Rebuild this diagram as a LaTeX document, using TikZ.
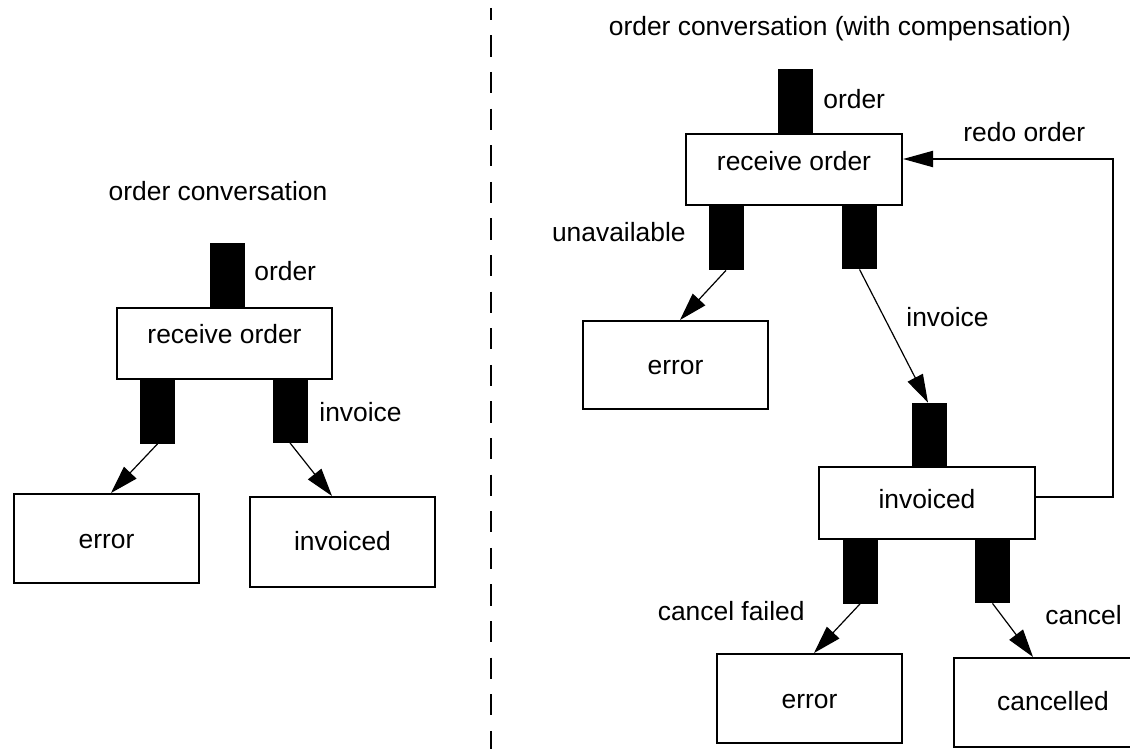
\documentclass[tikz,border=0pt]{standalone}
\usepackage{fontspec}
\setmainfont{Liberation Sans}
\usetikzlibrary{arrows.meta,calc}
\begin{document}
\begin{tikzpicture}[x=0.5pt,y=-0.5pt,
  font=\fontsize{13.2pt}{15pt}\selectfont,
  wh/.style 2 args={minimum width={#1*0.5pt},minimum height={#2*0.5pt}},
  box/.style={draw,line width=1pt,inner sep=0pt,text height=9.5pt,text depth=0pt},
  port/.style={fill=black,inner sep=0pt,minimum width=17.5pt,minimum height=32pt},
  lbl/.style={inner sep=0pt},
  flow/.style={line width=0.6pt,-{Triangle[length=14pt,width=8.5pt]}},
  fb/.style={line width=1pt,-{Triangle[length=15pt,width=8pt]}},
  divider/.style={line width=1.2pt,dash pattern=on 10.6pt off 7.7pt,dash phase=4.6pt}]
\useasboundingbox (0,0) rectangle (1130,749);

% separator between the two conversations
\draw[divider] (491,8) -- (491,749);

% ---------- plain order conversation ----------
\node[lbl,anchor=base] (ltitle) at (218,200.7) {order conversation};

\node[port] (lp0) at (227,275) {};
\node[box,wh={215}{71},text depth=9.5pt] (lrecv) at (224.5,343.5) {receive order};
\node[port] (lp1) at (157.5,411.5) {};
\node[port] (lp2) at (290,410.5) {};
\node[box,wh={185}{89}] (lerr) at (106.5,538.5) {error};
\node[box,wh={185}{90},text depth=1.5pt] (linv) at (342.5,542) {invoiced};

\node[lbl,anchor=base west] (lorder) at (254,280.7) {order};
\node[lbl,anchor=base west] (linvoice) at (319,421.7) {invoice};

\draw[flow] (lp1.south) -- ($(lerr.north)+(4.5,0)$);
\draw[flow] (lp2.south) -- ($(linv.north)+(-10.5,0)$);

% ---------- order conversation with compensation ----------
\node[lbl,anchor=base] (rtitle) at (840,36) {order conversation (with compensation)};

\node[port] (rp0) at (795.5,101) {};
\node[box,wh={216}{71},text depth=9pt] (rrecv) at (794,169.5) {receive order};
\node[port] (rp1) at (726,238) {};
\node[port] (rp2) at (859.5,237) {};
\node[box,wh={185}{88}] (rerr) at (675.5,365) {error};
\node[port] (rp3) at (929.5,435) {};
\node[box,wh={216}{72},text depth=4.5pt] (rinv) at (927,503) {invoiced};
\node[port] (rp4) at (860,571.5) {};
\node[port] (rp5) at (992.5,571) {};
\node[box,wh={185}{89}] (rerr2) at (809.5,698.5) {error};
\node[box,wh={198}{89},text depth=2pt] (rcanc) at (1053,702.5) {cancelled};

\node[lbl,anchor=base west] (rorder) at (823,108.3) {order};
\node[lbl,anchor=base west] (redo) at (963,141.7) {redo order};
\node[lbl,anchor=base east] (unavail) at (686,242) {unavailable};
\node[lbl,anchor=base west] (rinvoice) at (906,326) {invoice};
\node[lbl,anchor=base east] (cfailed) at (805,620) {cancel failed};
\node[lbl,anchor=base west] (cancel) at (1045,624) {cancel};

\draw[flow] (rp1.south) -- ($(rerr.north)+(4.5,0)$);
\draw[flow] (rp2.south) -- ($(rp3.north)+(-1.5,0)$);
\draw[flow] (rp4.south) -- ($(rerr2.north)+(4.5,0)$);
\draw[flow] (rp5.south) -- ($(rcanc.north)+(-20,0)$);

% compensation loop back to receive order
\coordinate (loop) at (1113,0);
\draw[fb] ($(rinv.east)+(0,-6)$) coordinate (fbstart) -- (fbstart -| loop)
  |- ($(rrecv.east)+(0,-10.5)$);
\end{tikzpicture}
\end{document}
